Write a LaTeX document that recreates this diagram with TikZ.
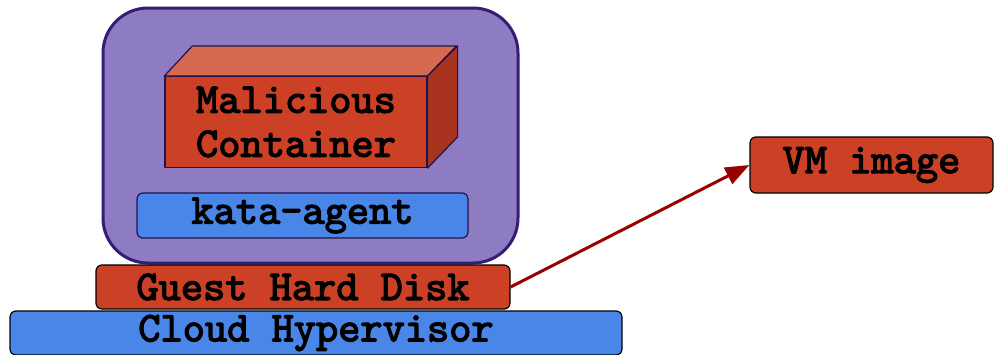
\documentclass[tikz,border=0pt]{standalone}
\usepackage{fontspec}
\newfontfamily\boxfont{lmmono10-regular}[Extension=.otf, FakeBold=3]
\usepackage{tikz}
\usetikzlibrary{arrows.meta, positioning}
\definecolor{vmpurple}{HTML}{8E7CC3}
\definecolor{vmborder}{HTML}{351C75}
\definecolor{cubeborder}{HTML}{20124D}
\definecolor{berry}{HTML}{CC4125}
\definecolor{berrytop}{HTML}{D66A50}
\definecolor{berryside}{HTML}{A8331F}
\definecolor{cornflower}{HTML}{4A86E8}
\definecolor{arrowred}{HTML}{990000}

\begin{document}
\begin{tikzpicture}[
  x=1pt, y=-1pt,
  font=\boxfont\bfseries\fontsize{42.3}{44}\selectfont,
  layer/.style={rectangle, draw=black, line width=1.2pt, rounded corners=6pt,
                align=center, inner sep=0pt},
  vmbox/.style={rectangle, draw=vmborder, fill=vmpurple, line width=3pt,
                rounded corners=45pt, inner sep=0pt},
  face/.style={draw=cubeborder, line width=1.2pt, line join=round},
  arrow/.style={-{Triangle[length=24pt, width=18pt]}, draw=arrowred, line width=3pt}
]
\useasboundingbox (0,0) rectangle (994,354);
\clip (0,0) rectangle (994,354);
\node[vmbox, minimum width=415pt, minimum height=255pt] (vm) at (310.5,135.5) {};
% container cube
\node[face, fill=berry, rectangle, align=center, inner sep=0pt,
      minimum width=262pt, minimum height=91pt] (front) at (296,122)
      {Malicious\\Container};
\draw[face, fill=berrytop] (front.north west) -- ++(28,-30) -- ++(264,0)
      -- (front.north east) -- cycle;
\draw[face, fill=berryside] (front.north east) -- ++(30,-30) -- ++(0,91)
      -- (front.south east) -- cycle;
\node[layer, draw=cubeborder, fill=cornflower, minimum width=331pt, minimum height=45pt]
      (agent) at (302.5,215.5) {kata-agent};
\node[layer, fill=berry, minimum width=414pt, minimum height=44pt]
      (disk) at (303,287) {Guest Hard Disk};
\node[layer, fill=cornflower, minimum width=612pt, minimum height=44pt]
      (hyper) at (316,333) {Cloud Hypervisor};
\node[layer, fill=berry, minimum width=243pt, minimum height=56pt]
      (image) at (871.5,165) {VM image};
\draw[arrow] (disk.east) -- (image.west);
\end{tikzpicture}
\end{document}
